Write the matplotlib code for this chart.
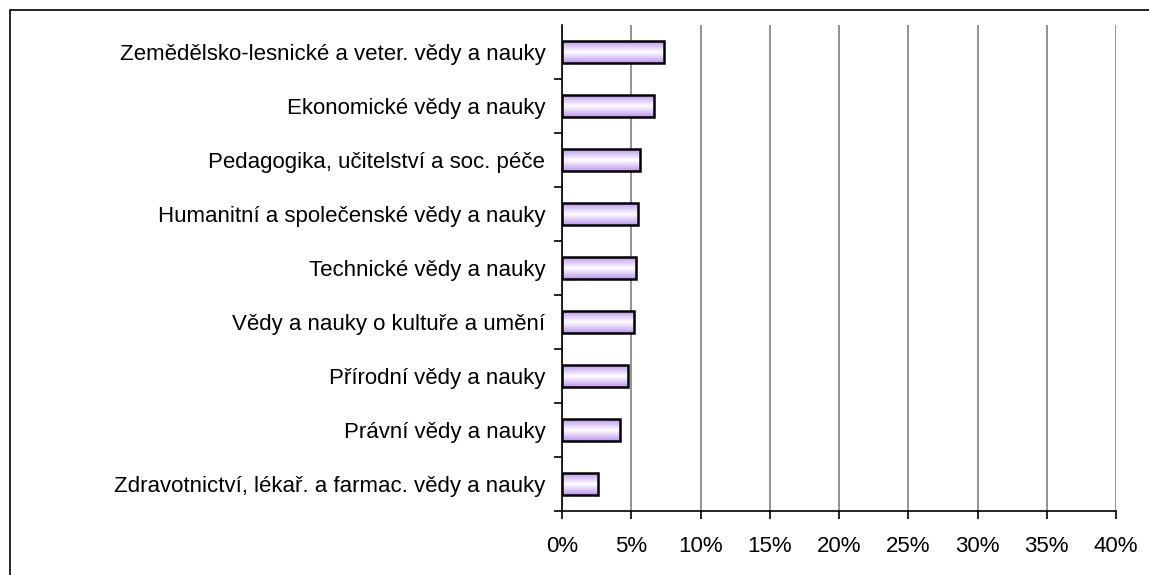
import numpy as np
import matplotlib.pyplot as plt
from matplotlib.colors import LinearSegmentedColormap
from matplotlib.patches import Rectangle

plt.rcParams['font.family'] = ['Liberation Sans', 'DejaVu Sans']

categories = [
    'Zemědělsko-lesnické a veter. vědy a nauky',
    'Ekonomické vědy a nauky',
    'Pedagogika, učitelství a soc. péče',
    'Humanitní a společenské vědy a nauky',
    'Technické vědy a nauky',
    'Vědy a nauky o kultuře a umění',
    'Přírodní vědy a nauky',
    'Právní vědy a nauky',
    'Zdravotnictví, lékař. a farmac. vědy a nauky',
]
values = [7.37, 6.64, 5.63, 5.49, 5.34, 5.20, 4.77, 4.19, 2.62]
xticks = [0, 5, 10, 15, 20, 25, 30, 35, 40]

fig = plt.figure(figsize=(11.49, 5.75), dpi=100)
# outer chart border (right and bottom edges fall outside the image)
fig.patches.append(Rectangle((10 / 1149, -10 / 575), 1150 / 1149, 575 / 575,
                             transform=fig.transFigure, fill=False,
                             edgecolor='black', linewidth=1.2))
ax = fig.add_axes([562 / 1149, (575 - 511) / 575, 554 / 1149, 486 / 575])

n = len(categories)
ypos = np.arange(n)[::-1]
h = 0.39
cmap = LinearSegmentedColormap.from_list('lav', ['#bc98ee', '#ffffff', '#bc98ee'])
grad = np.linspace(0, 1, 64).reshape(-1, 1)
for y, v in zip(ypos, values):
    ax.imshow(grad, extent=(0, v, y - h / 2, y + h / 2), aspect='auto',
              cmap=cmap, zorder=3, interpolation='bilinear')
    ax.add_patch(Rectangle((0, y - h / 2), v, h, fill=False,
                           edgecolor='black', linewidth=1.8, zorder=4))

ax.set_xlim(0, 40)
ax.set_ylim(-0.5, n - 0.5)
ax.set_xticks(xticks)
ax.set_xticklabels([f'{t}%' for t in xticks], fontsize=16)
ax.set_yticks(np.arange(n) - 0.5, minor=False)
ax.set_yticklabels([])
ax.set_yticks(ypos, minor=True)
ax.set_yticklabels(categories, minor=True, fontsize=16)
ax.tick_params(axis='y', which='minor', length=0, pad=12)
ax.tick_params(axis='y', which='major', length=6, direction='out', width=1.2)
ax.tick_params(axis='x', length=6, direction='out', width=1.2, pad=12)
ax.grid(axis='x', color='#808080', linewidth=1.2, zorder=0)
ax.set_axisbelow(True)
for s in ['top', 'right']:
    ax.spines[s].set_visible(False)
for s in ['left', 'bottom']:
    ax.spines[s].set_linewidth(1.2)
    ax.spines[s].set_zorder(5)

fig.savefig('out.png', dpi=100)
